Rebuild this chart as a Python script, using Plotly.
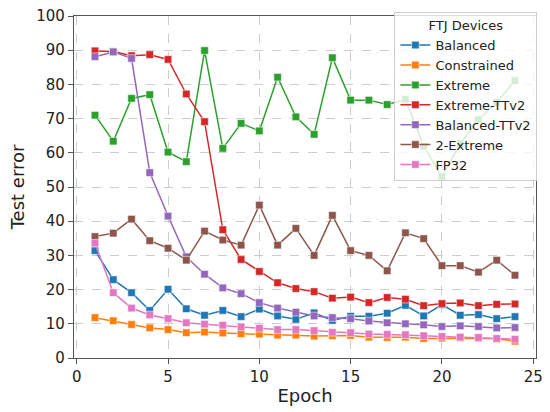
import plotly.graph_objects as go

epochs = list(range(1, 25))

balanced = [31.4, 22.9, 19.1, 13.9, 20.1, 14.4, 12.5, 13.9, 12.1, 14.3, 12.3, 11.3,
            13.2, 11.0, 12.2, 12.2, 13.1, 15.4, 12.3, 15.6, 12.5, 12.7, 11.5, 12.1]
constrained = [11.8, 10.9, 9.8, 8.8, 8.3, 7.4, 7.6, 7.3, 7.1, 7.0, 6.7, 6.7,
               6.4, 6.5, 6.6, 6.1, 6.0, 6.1, 5.7, 5.8, 5.9, 5.8, 5.6, 4.9]
extreme = [71.0, 63.4, 75.9, 77.0, 60.2, 57.4, 89.9, 61.3, 68.6, 66.4, 82.1, 70.5,
           65.4, 87.8, 75.4, 75.4, 74.1, 75.6, 61.9, 53.1, 62.6, 69.7, 74.7, 81.1]
extreme_ttv2 = [89.8, 89.6, 88.4, 88.7, 87.3, 77.2, 69.1, 37.5, 28.8, 25.3, 22.0, 20.3,
                19.4, 17.5, 17.8, 16.2, 17.7, 17.2, 15.3, 15.9, 16.1, 15.3, 15.7, 15.8]
balanced_ttv2 = [88.1, 89.5, 87.6, 54.2, 41.5, 29.6, 24.5, 20.5, 18.8, 16.2, 14.6, 13.4,
                 12.3, 11.8, 11.5, 10.8, 10.3, 10.0, 9.7, 9.2, 9.4, 9.2, 8.8, 8.9]
two_extreme = [35.5, 36.5, 40.6, 34.3, 32.1, 28.6, 37.1, 34.5, 33.0, 44.7, 33.0, 37.9,
               30.0, 41.7, 31.4, 30.0, 25.5, 36.6, 34.9, 27.0, 27.0, 25.1, 28.6, 24.2]
fp32 = [33.6, 19.1, 14.6, 12.6, 11.5, 10.3, 9.9, 9.6, 9.1, 8.7, 8.3, 8.3,
        8.0, 7.5, 7.4, 7.0, 6.9, 6.8, 6.5, 6.3, 6.1, 6.0, 5.7, 5.5]

series_names = ["Balanced", "Constrained", "Extreme", "Extreme-TTv2",
                "Balanced-TTv2", "2-Extreme", "FP32"]
series_values = [balanced, constrained, extreme, extreme_ttv2,
                 balanced_ttv2, two_extreme, fp32]
colors = ["#1f77b4", "#ff7f0e", "#2ca02c", "#d62728", "#9467bd", "#8c564b", "#e377c2"]

FONT = "DejaVu Sans"

fig = go.Figure()
for name, vals, c in zip(series_names, series_values, colors):
    fig.add_trace(go.Scatter(
        x=epochs, y=vals, name=name, mode="lines+markers",
        line=dict(color=c, width=1.5),
        marker=dict(symbol="square", size=7.5, color=c,
                    line=dict(color="rgba(255,255,255,0.5)", width=1)),
    ))

axis_common = dict(
    showline=True, linecolor="#555555", linewidth=1.2, mirror=True,
    showgrid=True, gridcolor="#cccccc", griddash="dash", gridwidth=1,
    ticks="outside", ticklen=5, tickcolor="#555555", tickwidth=1.2,
    zeroline=False, ticklabeloverflow="allow",
    tickfont=dict(family=FONT, size=15, color="#222222"),
)

fig.update_layout(
    width=550, height=412,
    margin=dict(l=74, r=7, t=7, b=54),
    paper_bgcolor="white", plot_bgcolor="white",
    font=dict(family=FONT, color="#222222"),
    xaxis=dict(range=[-0.15, 25.15], tickvals=[0, 5, 10, 15, 20, 25],
               title=dict(text="Epoch", font=dict(family=FONT, size=18), standoff=4),
               **axis_common),
    yaxis=dict(range=[0, 100], tickvals=list(range(0, 101, 10)),
               title=dict(text="Test error", font=dict(family=FONT, size=18), standoff=6),
               **axis_common),
    legend=dict(
        title=dict(text="FTJ Devices", side="top center",
                   font=dict(family=FONT, size=13)),
        font=dict(family=FONT, size=13, color="#222222"),
        x=1.003, xanchor="right", y=1.011, yanchor="top",
        bgcolor="rgba(255,255,255,0.8)", bordercolor="#cccccc", borderwidth=1,
        itemwidth=30, tracegroupgap=0,
    ),
    showlegend=True,
)

fig.write_html("out.html")
